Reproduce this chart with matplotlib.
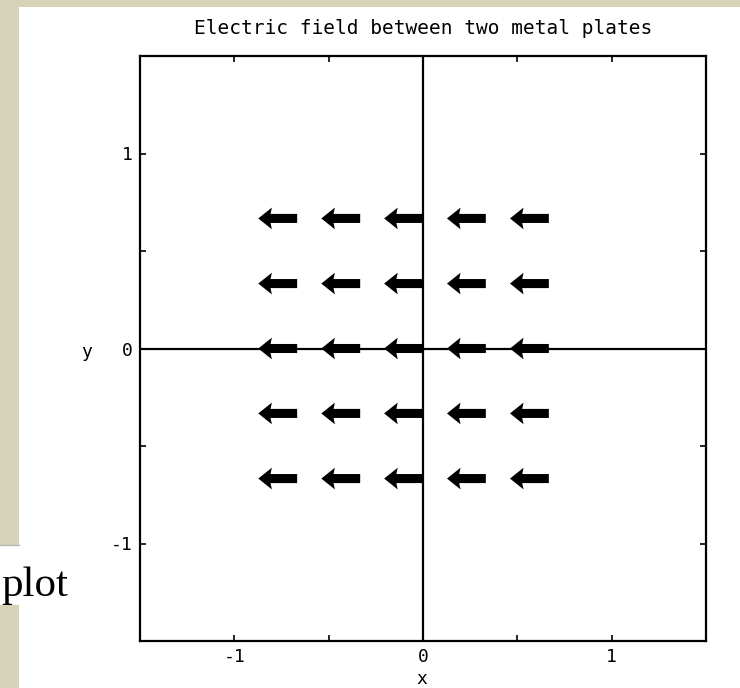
import matplotlib
matplotlib.use("Agg")
import matplotlib.pyplot as plt
from matplotlib.patches import Rectangle
from matplotlib.ticker import FixedLocator

plt.rcParams.update({
    "font.family": "DejaVu Sans Mono",
    "axes.unicode_minus": False,
})

# Field sample points and vectors (uniform field pointing in -x)
x_points = [-0.667, -0.333, 0.0, 0.333, 0.667]
y_points = [-0.667, -0.333, 0.0, 0.333, 0.667]
u_field = [
    [-1.0, -1.0, -1.0, -1.0, -1.0],
    [-1.0, -1.0, -1.0, -1.0, -1.0],
    [-1.0, -1.0, -1.0, -1.0, -1.0],
    [-1.0, -1.0, -1.0, -1.0, -1.0],
    [-1.0, -1.0, -1.0, -1.0, -1.0],
]
v_field = [
    [0.0, 0.0, 0.0, 0.0, 0.0],
    [0.0, 0.0, 0.0, 0.0, 0.0],
    [0.0, 0.0, 0.0, 0.0, 0.0],
    [0.0, 0.0, 0.0, 0.0, 0.0],
    [0.0, 0.0, 0.0, 0.0, 0.0],
]
major_ticks = [-1, 0, 1]
minor_ticks = [-0.5, 0.5]
title = "Electric field between two metal plates"

W, H = 740, 688
fig = plt.figure(figsize=(W / 100, H / 100), dpi=100)
fig.patch.set_facecolor("#d6d3b8")

# white sheet the chart sits on, plus the slide text patch at left
fig.add_artist(Rectangle((19 / W, 0), 1 - 19 / W, 1 - 7 / H,
                         transform=fig.transFigure, facecolor="white",
                         edgecolor="none", zorder=0))
fig.add_artist(Rectangle((0, 1 - 605 / H), 19 / W, 60 / H,
                         transform=fig.transFigure, facecolor="white",
                         edgecolor="none", zorder=0))
fig.add_artist(plt.Line2D([0, 19 / W], [1 - 545 / H] * 2,
                          transform=fig.transFigure, color="#b8b8b0",
                          linewidth=1, zorder=1))
fig.text(1 / W, 1 - 596 / H, "plot", family="Liberation Serif",
         fontsize=31, color="black", ha="left", va="baseline")

ax = fig.add_axes([140 / W, 47 / H, 566 / W, 585 / H])
ax.set_facecolor("white")

X = [[x for x in x_points] for _ in y_points]
Y = [[y for _ in x_points] for y in y_points]
ax.quiver(X, Y, u_field, v_field, angles="xy", scale_units="xy",
          scale=1 / 0.206, pivot="tail", color="black",
          width=0.016, headwidth=2.4, headlength=1.5, headaxislength=1.35,
          zorder=3)

ax.axhline(0, color="black", linewidth=1.6, zorder=2)
ax.axvline(0, color="black", linewidth=1.6, zorder=2)

ax.set_xlim(-1.5, 1.5)
ax.set_ylim(-1.5, 1.5)
ax.xaxis.set_major_locator(FixedLocator(major_ticks))
ax.yaxis.set_major_locator(FixedLocator(major_ticks))
ax.xaxis.set_minor_locator(FixedLocator(minor_ticks))
ax.yaxis.set_minor_locator(FixedLocator(minor_ticks))
ax.tick_params(which="both", direction="in", top=True, right=True,
               length=4, width=1.2, color="black", labelsize=13, pad=5)
for s in ax.spines.values():
    s.set_linewidth(1.6)
    s.set_color("black")

fig.text(423 / W, 1 - 29 / H, title, fontsize=14, ha="center", va="center")
fig.text(422 / W, 1 - 679 / H, "x", fontsize=13, ha="center", va="center")
fig.text(87 / W, 1 - 352 / H, "y", fontsize=13, ha="center", va="center")

fig.savefig("out.png", dpi=100)
